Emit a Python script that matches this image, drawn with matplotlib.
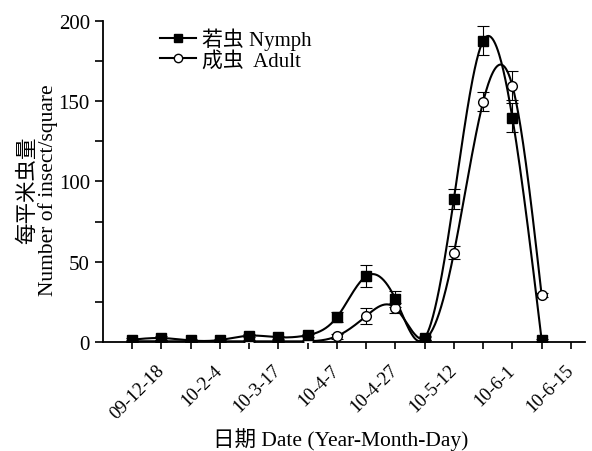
import numpy as np
import matplotlib
matplotlib.use("Agg")
import matplotlib.pyplot as plt
from matplotlib.ticker import MultipleLocator, FixedLocator
from matplotlib.transforms import ScaledTranslation

# Sampling dates (every other position is labelled on the x axis)
tick_labels = ["09-12-18", "10-2-4", "10-3-17", "10-4-7",
               "10-4-27", "10-5-12", "10-6-1", "10-6-15"]

# Mean density per square metre and standard errors, 15 sampling times
nymph = [1.5, 2.5, 1.0, 1.3, 4.0, 3.0, 4.3, 15.5, 41.0, 26.8, 2.5, 89.0, 187.5, 139.6, 1.4]
nymph_err = [1.0, 1.0, 0.8, 0.8, 1.0, 1.0, 1.0, 3.0, 7.0, 5.0, 1.0, 6.0, 9.0, 9.0, 0.5]
adult = [0.5, 0.5, 0.5, 0.5, 0.5, 0.5, 0.5, 3.7, 16.2, 21.2, 2.0, 55.5, 149.5, 159.5, 29.3]
adult_err = [0.5, 0.5, 0.5, 0.5, 0.5, 0.5, 0.5, 1.5, 5.0, 3.0, 1.0, 4.0, 6.0, 9.0, 1.0]

SERIF = ["Liberation Serif", "Noto Sans CJK SC"]
plt.rcParams["font.family"] = SERIF


def natural_spline(x, y, xs):
    """Natural cubic spline through (x, y), evaluated at xs."""
    x = np.asarray(x, float)
    y = np.asarray(y, float)
    n = len(x)
    h = np.diff(x)
    A = np.zeros((n, n))
    b = np.zeros(n)
    A[0, 0] = A[-1, -1] = 1.0
    for i in range(1, n - 1):
        A[i, i - 1] = h[i - 1]
        A[i, i] = 2 * (h[i - 1] + h[i])
        A[i, i + 1] = h[i]
        b[i] = 3 * ((y[i + 1] - y[i]) / h[i] - (y[i] - y[i - 1]) / h[i - 1])
    c = np.linalg.solve(A, b)
    out = np.empty_like(xs)
    idx = np.clip(np.searchsorted(x, xs) - 1, 0, n - 2)
    for k, (xv, i) in enumerate(zip(xs, idx)):
        bi = (y[i + 1] - y[i]) / h[i] - h[i] * (2 * c[i] + c[i + 1]) / 3
        di = (c[i + 1] - c[i]) / (3 * h[i])
        t = xv - x[i]
        out[k] = y[i] + bi * t + c[i] * t ** 2 + di * t ** 3
    return out


pos = np.arange(len(nymph))
fine = np.linspace(pos[0], pos[-1], 600)

fig = plt.figure(figsize=(5.92, 4.52), dpi=100)
ax = fig.add_axes([0.174, 0.241, 0.815, 0.711])

lw = 1.5
ax.plot(fine, natural_spline(pos, nymph, fine), color="black", lw=lw, zorder=2)
ax.plot(fine, natural_spline(pos, adult, fine), color="black", lw=lw, zorder=2)

ax.errorbar(pos, adult, yerr=adult_err, fmt="none", ecolor="black",
            elinewidth=0.8, capsize=4, capthick=0.8, zorder=3)
ax.errorbar(pos, nymph, yerr=nymph_err, fmt="none", ecolor="black",
            elinewidth=0.8, capsize=4, capthick=0.8, zorder=3)
ax.plot(pos, adult, "o", ms=7, mfc="white", mec="black", mew=1.0, zorder=4)
ax.plot(pos, nymph, "s", ms=6.5, mfc="black", mec="black", zorder=5)

# Legend built from proxy handles (line + marker)
h1, = ax.plot([], [], "-s", color="black", lw=lw, ms=5.5, mfc="black")
h2, = ax.plot([], [], "-o", color="black", lw=lw, ms=6, mfc="white", mec="black")
ax.legend([h1, h2], ["若虫 Nymph", "成虫  Adult"], loc="upper left",
          bbox_to_anchor=(150 / 592, 1 - 18 / 452), bbox_transform=fig.transFigure,
          frameon=False, prop={"family": SERIF, "size": 15},
          handlelength=1.7, handletextpad=0.3, labelspacing=0.05, borderpad=0)

ax.set_xlim(-1, 15.5)
ax.set_ylim(0, 200)
ax.xaxis.set_major_locator(FixedLocator(np.arange(1, 16, 2)))
ax.xaxis.set_minor_locator(FixedLocator(np.arange(0, 16, 2)))
ax.set_xticklabels(tick_labels, rotation=45, ha="right", va="center",
                   rotation_mode="anchor", fontsize=13.5)
shift = ScaledTranslation(-6 / 72, 0, fig.dpi_scale_trans)
for lab in ax.get_xticklabels():
    lab.set_transform(lab.get_transform() + shift)
ax.yaxis.set_major_locator(MultipleLocator(50))
ax.yaxis.set_minor_locator(MultipleLocator(25))
ax.tick_params(axis="y", which="major", labelsize=15, length=6, width=1.2, direction="out")
ax.tick_params(axis="y", which="minor", length=6, width=1.2, direction="out")
ax.tick_params(axis="x", which="both", length=5, width=1.2, direction="out", pad=13)

for side in ("top", "right"):
    ax.spines[side].set_visible(False)
for side in ("left", "bottom"):
    ax.spines[side].set_linewidth(1.3)

ax.set_xlabel("日期 Date (Year-Month-Day)", fontsize=15.5)
ax.xaxis.set_label_coords(0.492, -0.265)
ax.set_ylabel("每平米虫量\nNumber of insect/square", fontsize=15.5,
              linespacing=0.95)
ax.yaxis.set_label_coords(-0.094, 0.475)

fig.savefig("out.png", dpi=100)
